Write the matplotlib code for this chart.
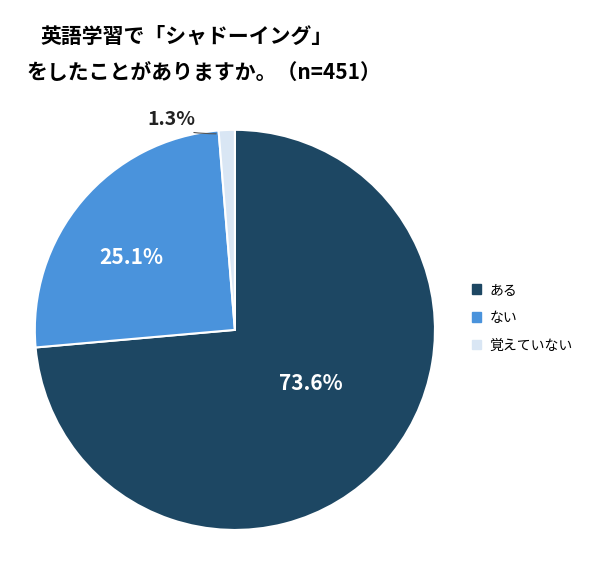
import matplotlib
matplotlib.use("Agg")
import matplotlib.pyplot as plt
from matplotlib.patches import Patch

plt.rcParams['font.family'] = ['Noto Sans CJK JP', 'DejaVu Sans']

categories = ["ある", "ない", "覚えていない"]
values = [73.6, 25.1, 1.3]
labels = ["73.6%", "25.1%", "1.3%"]
colors = ["#1d4763", "#4a93dc", "#d9e6f4"]

fig = plt.figure(figsize=(6, 5.62), dpi=100)
ax = fig.add_axes([0.058, 0.057, 0.667, 0.712])
wedges, _ = ax.pie(values, colors=colors, startangle=90, counterclock=False,
                   wedgeprops=dict(linewidth=1.5, edgecolor="white"))
ax.set_xlim(-1, 1); ax.set_ylim(-1, 1); ax.set_aspect('equal')

ax.text(0.38, -0.27, labels[0], color="white", fontsize=15, fontweight="bold", ha="center", va="center")
ax.text(-0.52, 0.36, labels[1], color="white", fontsize=15, fontweight="bold", ha="center", va="center")
ax.annotate(labels[2], xy=(-0.08, 0.98), xytext=(-0.32, 1.05), fontsize=14, fontweight="bold",
            ha="center", va="center", color="#222222",
            arrowprops=dict(arrowstyle="-", color="#555555", lw=0.8, connectionstyle="angle3"))

fig.text(0.067, 0.935, "英語学習で「シャドーイング」", fontsize=15, fontweight="bold", va="center")
fig.text(0.045, 0.870, "をしたことがありますか。（n=451）", fontsize=15, fontweight="bold", va="center")

handles = [Patch(facecolor=c, edgecolor=c) for c in colors]
fig.legend(handles, categories, loc="center left", bbox_to_anchor=(0.765, 0.435), frameon=False,
           fontsize=10, handlelength=0.7, handleheight=0.7, labelspacing=1.0, handletextpad=0.6)

fig.savefig("out.png", dpi=100, facecolor="white")
